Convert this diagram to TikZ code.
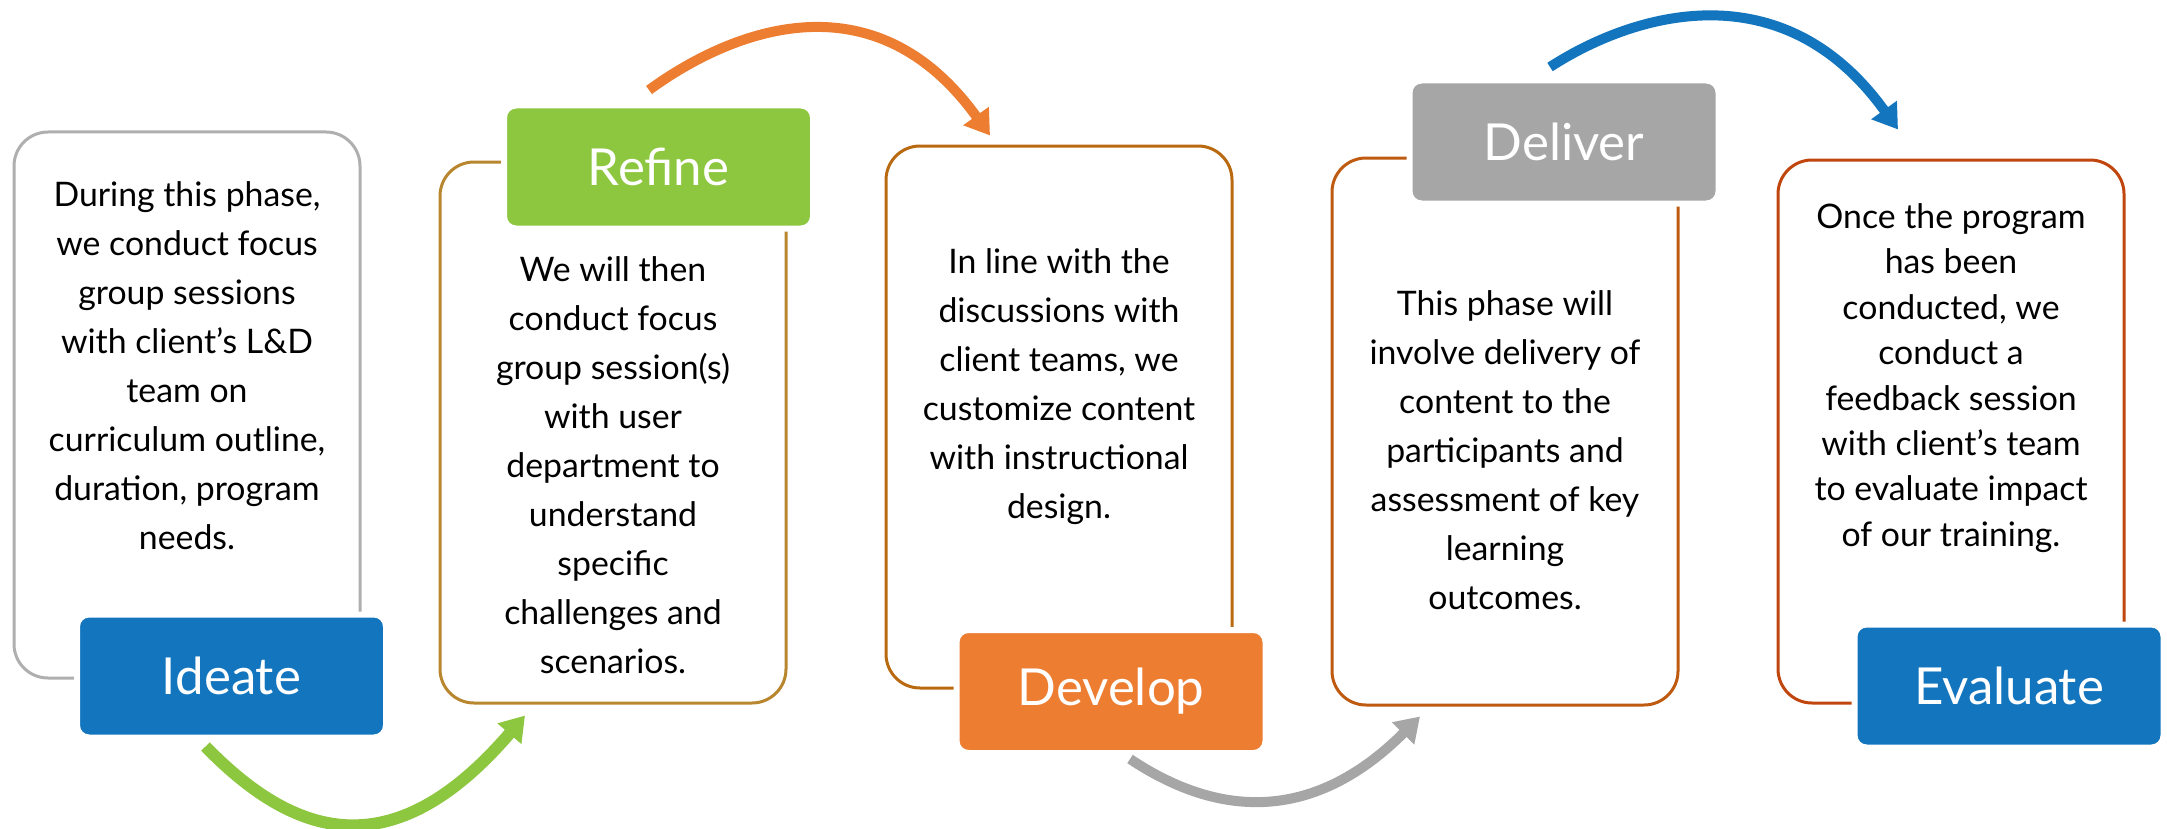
\documentclass[tikz,border=0pt]{standalone}
\usepackage{fontspec}
\setmainfont{Lato}
\usetikzlibrary{arrows.meta, calc}
\definecolor{ideablue}{HTML}{1275BE}
\definecolor{refinegreen}{HTML}{8DC63F}
\definecolor{devorange}{HTML}{ED7D31}
\definecolor{delgray}{HTML}{A6A6A6}
\definecolor{rimgray}{HTML}{AFAFAF}
\definecolor{rimgold}{HTML}{B8862E}
\definecolor{rimamber}{HTML}{B96A10}
\definecolor{rimrust}{HTML}{BF5A11}
\definecolor{rimred}{HTML}{C0460E}
\tikzstyle{card} = [rectangle, draw, line width=1.5pt, rounded corners=17pt, fill=white, inner sep=0pt, minimum width=173pt]
\tikzstyle{badge} = [rectangle, draw=white, line width=3pt, rounded corners=6pt, text=white, font=\fontsize{25.5}{30}\selectfont, minimum width=154.5pt, minimum height=61.5pt]
\tikzstyle{note} = [align=center, font=\fontsize{16.9}{24.5}\selectfont]
\tikzstyle{flow} = [line width=5pt, -{Triangle[width=15pt, length=12pt]}]

\begin{document}
\begin{tikzpicture}[x=0.5pt, y=-0.5pt]
	\useasboundingbox (0,0) rectangle (2167,829);

	% Phase cards
	\node (card1) [card, draw=rimgray, minimum height=273pt] at (187,405) {};
	\node (card2) [card, draw=rimgold, minimum height=270.5pt] at (613,432.5) {};
	\node (card3) [card, draw=rimamber, minimum height=271pt] at (1059,417) {};
	\node (card4) [card, draw=rimrust, minimum height=273.5pt] at (1505,431.5) {};
	\node (card5) [card, draw=rimred, minimum height=271.5pt] at (1951,431.5) {};

	% Descriptions
	\node (note1) [note] at (187,366) {During this phase,\\we conduct focus\\group sessions\\with client’s L\&D\\team on\\curriculum outline,\\duration, program\\needs.};
	\node (note2) [note] at (613,465) {We will then\\conduct focus\\group session(s)\\with user\\department to\\understand\\specific\\challenges and\\scenarios.};
	\node (note3) [note] at (1059,386.5) {In line with the\\discussions with\\client teams, we\\customize content\\with instructional\\design.};
	\node (note4) [note] at (1505,450) {This phase will\\involve delivery of\\content to the\\participants and\\assessment of key\\learning\\outcomes.};
	\node (note5) [note, font=\fontsize{16.9}{22.7}\selectfont] at (1951,378) {Once the program\\has been\\conducted, we\\conduct a\\feedback session\\with client’s team\\to evaluate impact\\of our training.};

	% Phase labels
	\node (ideate) [badge, fill=ideablue] at (231.5,676) {Ideate};
	\node (refine) [badge, fill=refinegreen] at (658.5,167) {Refine};
	\node (develop) [badge, fill=devorange] at (1111,691.5) {Develop};
	\node (deliver) [badge, fill=delgray] at (1564,142) {Deliver};
	\node (evaluate) [badge, fill=ideablue] at (2009,686) {Evaluate};

	% Arrows between phases
	\draw[flow, refinegreen, line width=6pt] ($(ideate.south)+(-26,6)$) .. controls +(95,98) and +(-127,148) .. ($(card2.south)+(-88,11)$);
	\draw[flow, devorange] ($(refine.north)+(-9.5,-12.5)$) .. controls +(85,-62) and +(-115,-160) .. ($(card3.north)+(-69,-9)$);
	\draw[flow, delgray] ($(develop.south)+(19,3)$) .. controls +(84,56) and +(-110,110) .. ($(card4.south)+(-85,10)$);
	\draw[flow, ideablue] ($(deliver.north)+(-14,-10.5)$) .. controls +(85,-55) and +(-115,-160) .. ($(card5.north)+(-53,-29)$);

\end{tikzpicture}
\end{document}
